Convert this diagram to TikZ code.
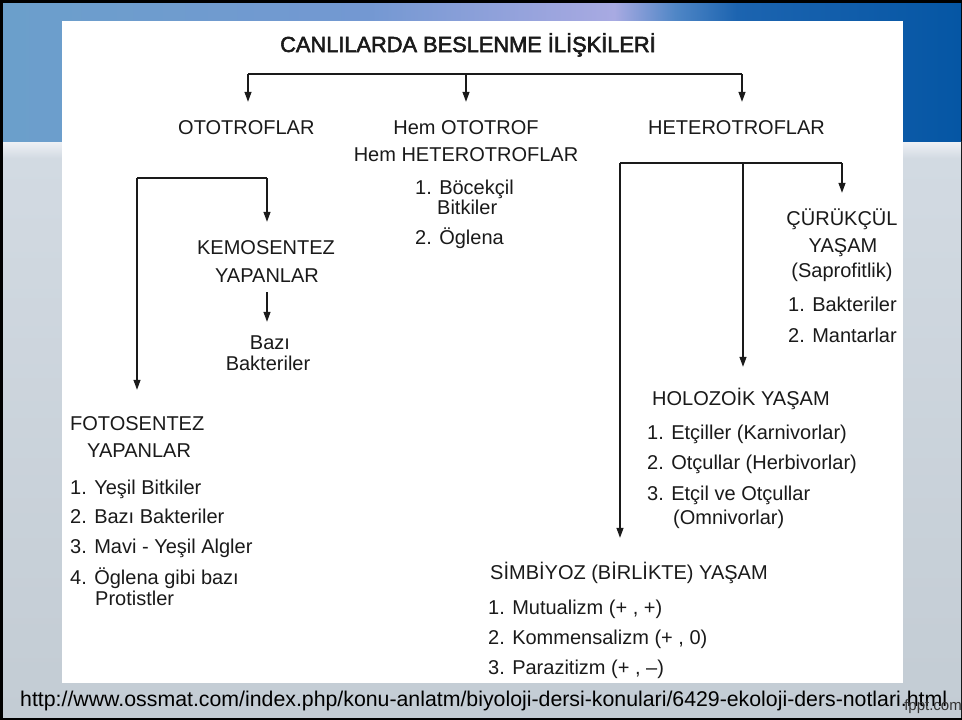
\documentclass[tikz,border=0pt]{standalone}
\usepackage{fontspec}
\setmainfont{Liberation Sans}
\newfontfamily\titlefont[FakeBold=2.5]{Liberation Sans}
\usetikzlibrary{arrows.meta}
\definecolor{ink}{HTML}{1A1A1A}
\definecolor{bandA}{HTML}{6B9FCB}
\definecolor{bandB}{HTML}{7398D2}
\definecolor{bandC}{HTML}{9CA5DE}
\definecolor{bandD}{HTML}{A8AAE2}
\definecolor{bandE}{HTML}{4F86C6}
\definecolor{bandF}{HTML}{1C64B0}
\definecolor{bandG}{HTML}{0556A4}
\definecolor{lowA}{HTML}{F0F2F6}
\definecolor{lowB}{HTML}{D2DAE2}
\definecolor{lowC}{HTML}{C3CCD4}
\pgfdeclarehorizontalshading{topband}{100bp}{color(0bp)=(bandA); color(25bp)=(bandA); color(44bp)=(bandB); color(53.7bp)=(bandC); color(56.9bp)=(bandD); color(60.1bp)=(bandE); color(63.3bp)=(bandF); color(75bp)=(bandG); color(100bp)=(bandG)}
\pgfdeclareverticalshading{lowband}{100bp}{color(0bp)=(lowC); color(25bp)=(lowC); color(73.5bp)=(lowB); color(75bp)=(lowA); color(100bp)=(lowA)}
\tikzset{
  txt/.style={inner sep=0pt, text height=14pt, text depth=0pt, font=\fontsize{20}{24}\selectfont, text=ink},
  lnk/.style={draw=ink, line width=1.3pt},
  arr/.style={lnk, -{Triangle[width=7pt,length=10pt]}},
}
\begin{document}
\begin{tikzpicture}[x=1pt,y=-1pt]
\useasboundingbox (0,0) rectangle (962,720);
% background
\fill[black] (0,0) rectangle (962,720);
\shade[shading=lowband] (3,141) rectangle (961,717);
\shade[shading=topband] (3,3) rectangle (961,141);
\fill[white] (62,21) rectangle (903,683);

% title and first level
\node[txt, font=\titlefont\fontsize{21.8}{25}\selectfont] (title) at (468,45) {CANLILARDA BESLENME İLİŞKİLERİ};
\node[txt, anchor=west] (ototrof) at (178,127) {OTOTROFLAR};
\node[txt] (hem1) at (466,127) {Hem OTOTROF};
\node[txt] (hem2) at (466,154) {Hem HETEROTROFLAR};
\node[txt, anchor=west] (bocek1) at (415,187) {1. Böcekçil};
\node[txt, anchor=west] (bocek2) at (437,207) {Bitkiler};
\node[txt, anchor=west] (oglena) at (415,237) {2. Öglena};
\node[txt, anchor=west] (hetero) at (648,127) {HETEROTROFLAR};

% ototrof branch
\node[txt] (kemo1) at (266,247) {KEMOSENTEZ};
\node[txt] (kemo2) at (267,275) {YAPANLAR};
\node[txt] (bazi1) at (270,342) {Bazı};
\node[txt] (bazi2) at (268,363) {Bakteriler};
\node[txt, anchor=west] (foto1) at (70,423) {FOTOSENTEZ};
\node[txt, anchor=west] (foto2) at (87,450) {YAPANLAR};
\node[txt, anchor=west] (f1) at (70,487) {1. Yeşil Bitkiler};
\node[txt, anchor=west] (f2) at (70,516) {2. Bazı Bakteriler};
\node[txt, anchor=west] (f3) at (70,546) {3. Mavi - Yeşil Algler};
\node[txt, anchor=west] (f4) at (70,577) {4. Öglena gibi bazı};
\node[txt, anchor=west] (f5) at (95,598) {Protistler};

% heterotrof branch
\node[txt] (curuk1) at (842,218) {ÇÜRÜKÇÜL};
\node[txt] (curuk2) at (843,245) {YAŞAM};
\node[txt] (curuk3) at (842,270) {(Saprofitlik)};
\node[txt, anchor=west] (c1) at (788,304) {1. Bakteriler};
\node[txt, anchor=west] (c2) at (788,335) {2. Mantarlar};
\node[txt, anchor=west] (holo) at (652,398) {HOLOZOİK YAŞAM};
\node[txt, anchor=west] (h1) at (647,432) {1. Etçiller (Karnivorlar)};
\node[txt, anchor=west] (h2) at (647,462) {2. Otçullar (Herbivorlar)};
\node[txt, anchor=west] (h3) at (647,493) {3. Etçil ve Otçullar};
\node[txt, anchor=west] (h4) at (673,517) {(Omnivorlar)};
\node[txt, anchor=west] (simb) at (490,572) {SİMBİYOZ (BİRLİKTE) YAŞAM};
\node[txt, anchor=west] (s1) at (488,607) {1. Mutualizm (+ , +)};
\node[txt, anchor=west] (s2) at (488,637) {2. Kommensalizm (+ , 0)};
\node[txt, anchor=west] (s3) at (488,667) {3. Parazitizm (+ , –)};

% footer
\node[txt, anchor=west, font=\fontsize{21.3}{25}\selectfont, text=black] (url) at (20,699) {http://www.ossmat.com/index.php/konu-anlatm/biyoloji-dersi-konulari/6429-ekoloji-ders-notlari.html};
\node[inner sep=0pt, anchor=east, font=\fontsize{15}{18}\selectfont, text=black!80] (fppt) at (962,707) {fppt.com};

% connectors: top level
\coordinate (barL) at (248,74);
\coordinate (barM) at (466,74);
\coordinate (barR) at (742,74);
\draw[lnk] (barL) -- (barR);
\draw[arr, shorten >=18pt] (barL) -- (barL |- ototrof.north);
\draw[arr, shorten >=18pt] (barM) -- (barM |- hem1.north);
\draw[arr, shorten >=18pt] (barR) -- (barR |- hetero.north);

% ototrof branch
\coordinate (obL) at (137,178);
\coordinate (obR) at (267,178);
\draw[lnk] (obL) -- (obR);
\draw[arr, shorten >=18pt] (obR) -- (obR |- kemo1.north);
\draw[arr, shorten >=26pt] (obL) -- (obL |- foto1.north);
\draw[arr, shorten <=10pt, shorten >=13pt] (kemo2.south) -- (kemo2.south |- bazi1.north);

% heterotrof branch
\coordinate (hbL) at (620,163);
\coordinate (hbM) at (743,163);
\coordinate (hbR) at (842,163);
\draw[lnk] (hbL) -- (hbR);
\draw[arr, shorten >=18pt] (hbR) -- (hbR |- curuk1.north);
\draw[arr, shorten >=24pt] (hbM) -- (hbM |- holo.north);
\draw[arr, shorten >=27pt] (hbL) -- (hbL |- simb.north);
\end{tikzpicture}
\end{document}
